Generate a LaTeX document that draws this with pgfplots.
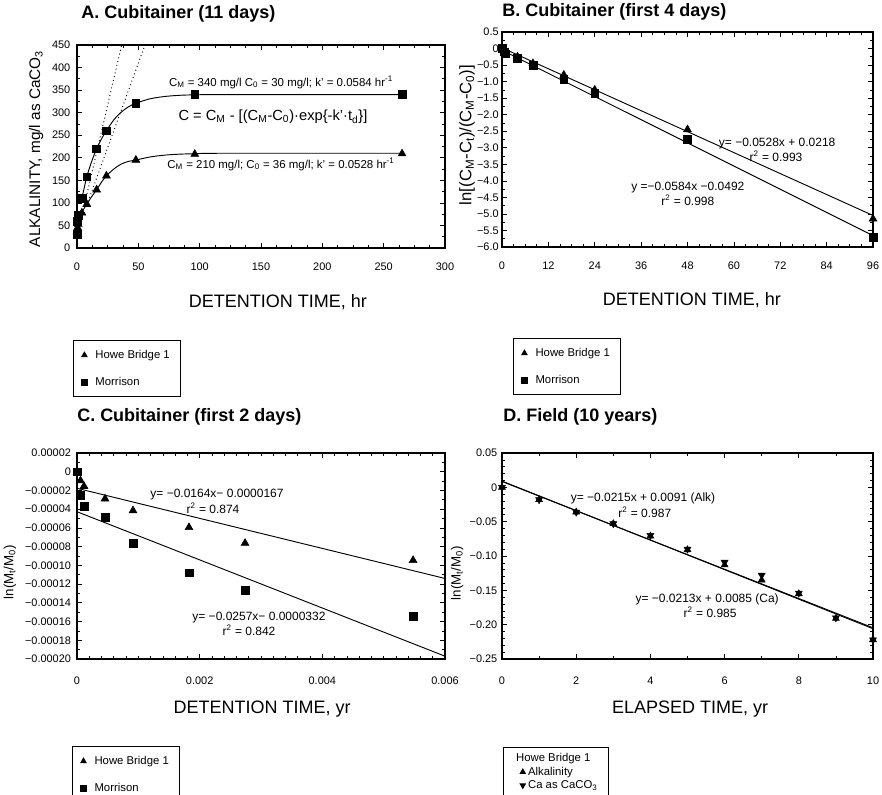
\documentclass[border=0pt]{standalone}
\usepackage{fontspec}
\setmainfont{Liberation Sans}
\usepackage{pgfplots}
\pgfplotsset{compat=1.18}

\pgfplotsset{
  panel/.style={
    scale only axis,
    axis line style={line width=0.8pt},
    tick style={black, line width=0.5pt},
    major tick length=4pt, minor tick length=2pt,
    tick align=inside,
    ticklabel style={font=\fontsize{8.2}{9}\selectfont},
    /pgf/number format/assume math mode=true,
    scaled ticks=false,
    title style={font=\fontsize{13.5}{15}\selectfont\bfseries, anchor=base west, inner sep=0pt},
    xlabel style={font=\fontsize{13.5}{15}\selectfont, anchor=base, inner sep=0pt},
    ylabel style={anchor=center, inner sep=0pt},
    legend style={draw=black, line width=0.6pt, font=\fontsize{8.5}{10}\selectfont,
      inner xsep=6pt, inner ysep=5.25pt, row sep=8.5pt},
    legend cell align=left,
    legend image post style={mark size=2.3pt},
  },
  tri/.style={only marks, mark=triangle*, mark size=3.4pt, black},
  sq/.style={only marks, mark=square*, mark size=2.9pt, black},
  fit/.style={black, line width=0.7pt, no marks},
}
\tikzset{ann/.style={font=\fontsize{9}{10}\selectfont, inner sep=0pt}}

\begin{document}
\begin{tikzpicture}
\useasboundingbox (0,0) rectangle (661.5pt,596.25pt);

% ---------------- A ----------------
\begin{axis}[panel,
  at={(57.75pt,410.25pt)}, anchor=south west,
  width=276pt, height=152.25pt,
  xmin=0, xmax=300, ymin=0, ymax=450,
  xtick={0,50,...,300}, ytick={0,50,...,450},
  minor x tick num=3, minor y tick num=1,
  xticklabel style={yshift=-7.5pt},
  yticklabel style={xshift=-1.5pt},
  title={A. Cubitainer (11 days)},
  title style={at={(axis description cs:0.011,1.089)}},
  xlabel={DETENTION TIME, hr},
  xlabel style={at={(axis description cs:0.546,-0.291)}},
  ylabel={ALKALINITY, mg/l as CaCO\textsubscript{3}},
  ylabel style={at={(axis description cs:-0.111,0.488)}, font=\fontsize{11.5}{13}\selectfont},
  legend style={at={(axis description cs:-0.011,-0.453)}, anchor=north west},
]
\addplot[tri] coordinates {(0,36) (0.5,45) (1,53) (4,78) (8,97) (16,129) (24,160) (48,195) (96,208) (265,209)};
\addlegendentry{\hspace{4pt}Howe Bridge 1}
\addplot[sq] coordinates {(0,30) (0.5,60) (1,73) (4,110) (8,158) (16,220) (24,260) (48,321) (96,340) (265,340)};
\addlegendentry{\hspace{4pt}Morrison}
\addplot[fit, smooth, forget plot] coordinates {(4,110) (8,158) (12,192) (16,220) (20,242) (24,260) (30,284) (36,301) (42,313) (48,321) (60,331) (72,336) (84,338.5) (96,339.5) (120,340) (264,340)};
\addplot[fit, smooth, forget plot] coordinates {(4,80) (8,97) (12,114) (16,129) (20,146) (24,160) (30,175) (36,186) (42,192) (48,195) (60,202) (72,206) (84,208) (96,209) (120,210) (264,210)};
\addplot[black, line width=0.7pt, dash pattern=on 0.7pt off 2.2pt, forget plot] coordinates {(6,95) (36.4,450)};
\addplot[black, line width=0.7pt, dash pattern=on 0.7pt off 2.2pt, forget plot] coordinates {(8,95) (55.4,450)};
\node[ann, font=\fontsize{8.6}{10}\selectfont] at (axis cs:166.3,368) {C\textsubscript{M} = 340 mg/l C\textsubscript{0} = 30 mg/l; k' = 0.0584 hr\textsuperscript{-1}};
\node[ann, font=\fontsize{11}{13}\selectfont] at (axis cs:159.8,290.4) {C = C\textsubscript{M} - [(C\textsubscript{M}-C\textsubscript{0})·exp\{-k'·t\textsubscript{d}\}]};
\node[ann, font=\fontsize{8.6}{10}\selectfont] at (axis cs:166.3,186.2) {C\textsubscript{M} = 210 mg/l; C\textsubscript{0} = 36 mg/l; k' = 0.0528 hr\textsuperscript{-1}};
\end{axis}

% ---------------- B ----------------
\begin{axis}[panel,
  at={(376.5pt,411pt)}, anchor=south west,
  width=278.25pt, height=161.25pt,
  xmin=0, xmax=96, ymin=-6, ymax=0.5,
  xtick={0,12,...,96},
  ytick={0.5,0,-0.5,-1,-1.5,-2,-2.5,-3,-3.5,-4,-4.5,-5,-5.5,-6},
  yticklabels={0.5,0,−0.5,−1.0,−1.5,−2.0,−2.5,−3.0,−3.5,−4.0,−4.5,−5.0,−5.5,−6.0},
  minor x tick num=3, minor y tick num=1,
  xticklabel style={yshift=-7.5pt},
  yticklabel style={xshift=1pt},
  title={B. Cubitainer (first 4 days)},
  title style={at={(axis description cs:0,1.033)}},
  xlabel={DETENTION TIME, hr},
  xlabel style={at={(axis description cs:0.512,-0.270)}},
  ylabel={ln[(C\textsubscript{M}-C\textsubscript{t})/(C\textsubscript{M}-C\textsubscript{0})]},
  ylabel style={at={(axis description cs:-0.094,0.521)}, font=\fontsize{12.5}{14}\selectfont},
  legend style={at={(axis description cs:0.0296,-0.423)}, anchor=north west},
]
\addplot[tri] coordinates {(0,0) (0.5,-0.05) (1,-0.1) (4,-0.25) (8,-0.45) (16,-0.8) (24,-1.25) (48,-2.45) (96,-5.15)};
\addlegendentry{\hspace{4pt}Howe Bridge 1}
\addplot[sq] coordinates {(0,0) (0.5,-0.1) (1,-0.16) (4,-0.3) (8,-0.5) (16,-0.92) (24,-1.35) (48,-2.75) (96,-5.7)};
\addlegendentry{\hspace{4pt}Morrison}
\addplot[fit, forget plot] coordinates {(0,0.0218) (96,-5.047)};
\addplot[fit, forget plot] coordinates {(0,-0.0492) (96,-5.656)};
\node[ann] at (axis cs:71.2,-2.886) {y= −0.0528x + 0.0218};
\node[ann] at (axis cs:70.9,-3.249) {r\textsuperscript{2} = 0.993};
\node[ann] at (axis cs:48.1,-4.216) {y =−0.0584x −0.0492};
\node[ann] at (axis cs:48.1,-4.579) {r\textsuperscript{2} = 0.998};
\end{axis}

% ---------------- C ----------------
\begin{axis}[panel,
  at={(57.75pt,102pt)}, anchor=south west,
  width=276pt, height=154.5pt,
  xmin=0, xmax=0.006, ymin=-0.0002, ymax=0.00002,
  xtick={0,0.002,0.004,0.006}, xticklabels={0,0.002,0.004,0.006},
  ytick={0.00002,0,-0.00002,-0.00004,-0.00006,-0.00008,-0.0001,-0.00012,-0.00014,-0.00016,-0.00018,-0.0002},
  yticklabels={0.00002,0,−0.00002,−0.00004,−0.00006,−0.00008,−0.00010,−0.00012,−0.00014,−0.00016,−0.00018,−0.00020},
  minor x tick num=9, minor y tick num=1,
  xticklabel style={yshift=-10pt},
  yticklabel style={xshift=-1pt},
  title={C. Cubitainer (first 2 days)},
  title style={at={(axis description cs:0,1.112)}},
  xlabel={DETENTION TIME, yr},
  xlabel style={at={(axis description cs:0.503,-0.267)}},
  ylabel={ln(M\textsubscript{t}/M\textsubscript{0})},
  ylabel style={at={(axis description cs:-0.182,0.422)}, font=\fontsize{10}{12}\selectfont},
  legend style={at={(axis description cs:-0.0136,-0.422)}, anchor=north west},
]
\addplot[tri] coordinates {(0,0) (0.000057,-0.0000095) (0.000114,-0.0000155) (0.000457,-0.0000289) (0.000913,-0.0000415) (0.001826,-0.0000595) (0.00274,-0.0000763) (0.00548,-0.0000946)};
\addlegendentry{\hspace{4pt}Howe Bridge 1}
\addplot[sq] coordinates {(0,0) (0.000057,-0.0000253) (0.000114,-0.0000368) (0.000457,-0.0000487) (0.000913,-0.0000763) (0.001826,-0.000108) (0.00274,-0.0001267) (0.00548,-0.0001547)};
\addlegendentry{\hspace{4pt}Morrison}
\addplot[fit, forget plot] coordinates {(0,-0.0000177) (0.006,-0.000114)};
\addplot[fit, forget plot] coordinates {(0,-0.0000427) (0.006,-0.000197)};
\node[ann] at (axis cs:0.002283,-0.0000249) {y= −0.0164x− 0.0000167};
\node[ann] at (axis cs:0.002217,-0.0000387) {r\textsuperscript{2} = 0.874};
\node[ann] at (axis cs:0.002967,-0.0001562) {y= −0.0257x− 0.0000332};
\node[ann] at (axis cs:0.002804,-0.000169) {r\textsuperscript{2} = 0.842};
\end{axis}

% ---------------- D ----------------
\begin{axis}[panel,
  at={(376.5pt,102pt)}, anchor=south west,
  width=278.25pt, height=154.5pt,
  xmin=0, xmax=10, ymin=-0.25, ymax=0.05,
  xtick={0,2,...,10},
  ytick={0.05,0,-0.05,-0.1,-0.15,-0.2,-0.25},
  yticklabels={0.05,0,−0.05,−0.10,−0.15,−0.20,−0.25},
  minor x tick num=1, minor y tick num=4,
  xticklabel style={yshift=-10pt},
  title={D. Field (10 years)},
  title style={at={(axis description cs:0.003,1.112)}},
  xlabel={ELAPSED TIME, yr},
  xlabel style={at={(axis description cs:0.507,-0.267)}},
  ylabel={ln(M\textsubscript{t}/M\textsubscript{0})},
  ylabel style={at={(axis description cs:-0.121,0.417)}, font=\fontsize{10}{12}\selectfont},
  legend style={at={(axis description cs:0.0027,-0.427)}, anchor=north west, row sep=-1.5pt, inner ysep=2.5pt, inner xsep=6pt},
]
\addlegendimage{empty legend}
\addlegendentry{\hspace{-9pt}Howe Bridge 1\hspace{8pt}}
\addplot[only marks, mark=triangle*, mark size=3pt, black] coordinates {(0,0) (1,-0.018) (2,-0.036) (3,-0.053) (4,-0.071) (5,-0.091) (6,-0.113) (7,-0.135) (8,-0.155) (9,-0.191) (10,-0.222)};
\addlegendentry{Alkalinity}
\addplot[only marks, mark=triangle*, mark size=3pt, mark options={rotate=180}, black] coordinates {(0,0) (1,-0.018) (2,-0.036) (3,-0.053) (4,-0.070) (5,-0.090) (6,-0.109) (7,-0.128) (8,-0.154) (9,-0.190) (10,-0.222)};
\addlegendentry{Ca as CaCO\textsubscript{3}}
\addplot[fit, forget plot] coordinates {(0,0.0091) (10,-0.2059)};
\addplot[fit, forget plot] coordinates {(0,0.0085) (10,-0.2045)};
\node[ann] at (axis cs:3.80,-0.0155) {y= −0.0215x + 0.0091 (Alk)};
\node[ann] at (axis cs:3.85,-0.0359) {r\textsuperscript{2} = 0.987};
\node[ann] at (axis cs:5.53,-0.1626) {y= −0.0213x + 0.0085 (Ca)};
\node[ann] at (axis cs:5.61,-0.1815) {r\textsuperscript{2} = 0.985};
\end{axis}
\end{tikzpicture}
\end{document}
